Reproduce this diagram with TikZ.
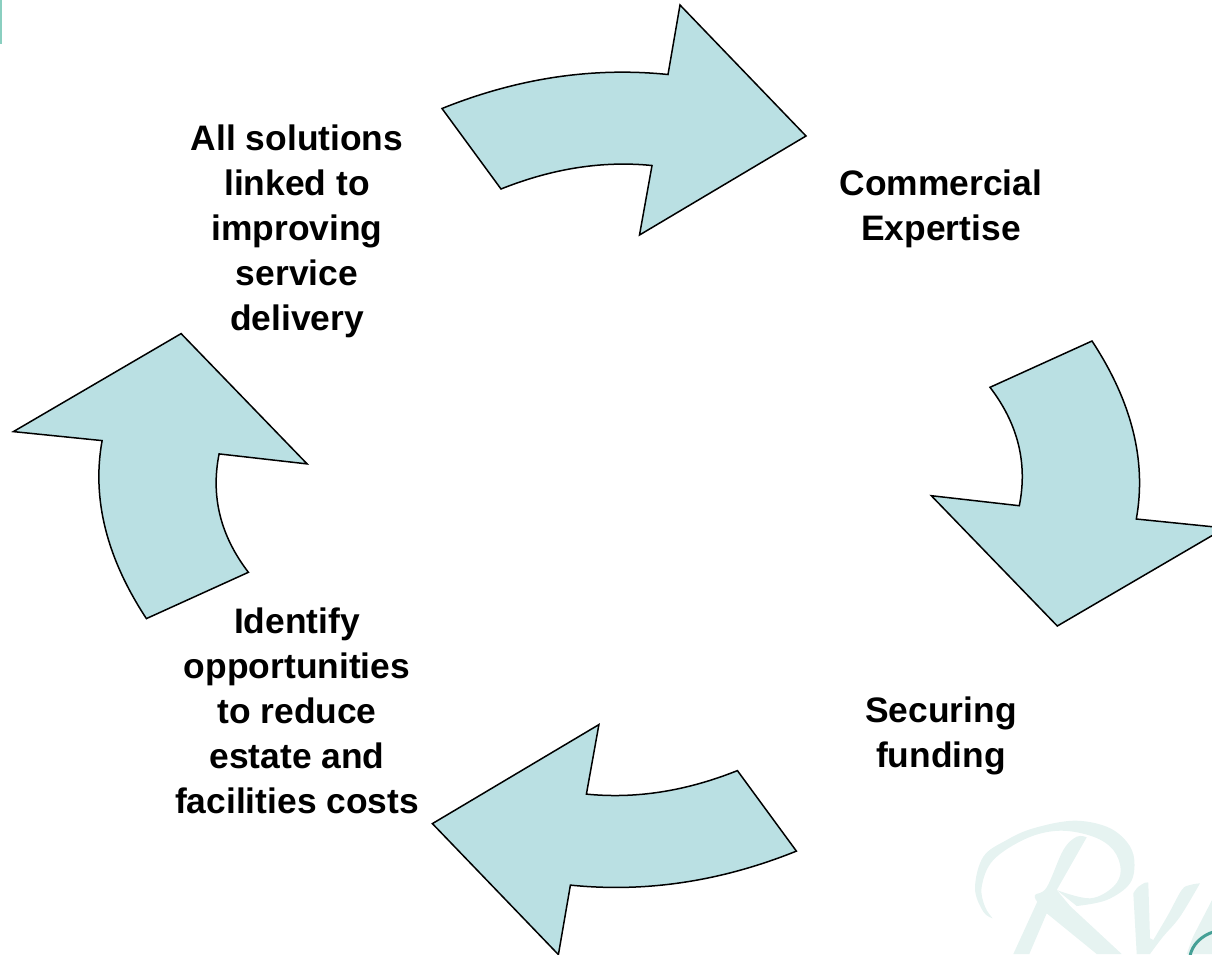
\documentclass[tikz,border=0pt]{standalone}
\usepackage{fontspec}
\setmainfont{Liberation Sans}
\definecolor{arrowfill}{HTML}{BAE0E3}
\definecolor{wm}{HTML}{E6F3F1}
\definecolor{barteal}{HTML}{8ACFC0}
\definecolor{ringteal}{HTML}{45A096}
\tikzset{
  cyclearrow/.style={draw=black,fill=arrowfill,line width=1.5pt,line join=miter},
  label/.style={align=center,inner sep=0pt,anchor=base,font=\fontsize{35.4}{45}\selectfont\bfseries,text=black},
  watermark/.style={fill=wm,draw=none},
  curvy/.style={smooth,tension=.6}
}
\begin{document}
\begin{tikzpicture}[x=1pt,y=-1pt]
\useasboundingbox (0,0) rectangle (1212,954);
\clip (0,0) rectangle (1212,954);
% corner bar
\fill[barteal] (0,0) rectangle (2,44);
% watermark: R swash and bowl
\fill[watermark] plot[curvy] coordinates {(992.7,918.3) (983.3,911.7) (975,888.3) (983.3,856.7) (1006.7,840) (1033.3,828.3) (1073.3,820.7) (1106.7,826.7) (1126.7,841.7) (1134.3,860) (1130,883.3) (1106.7,900) (1076.7,906)}
  -- plot[curvy] coordinates {(1056.7,890) (1090,898.3) (1113.3,886.7) (1120.7,870) (1113.3,850) (1093.3,836.7) (1060,830.7) (1026.7,838.3) (993.3,860) (981.7,886.7) (985,906.7) (992.7,918.3)} -- cycle;
% watermark: R stem
\fill[watermark] plot[curvy] coordinates {(1086.7,837.3) (1076.7,836.7) (1063.3,850) (1046.7,887.3) (1035,895) (1037.3,901.7)}
  -- (1013.3,954) -- (1029.3,954) -- (1046.7,913.3) -- (1096.7,954) -- (1121.7,954) -- (1070,906) -- (1056.7,890) -- cycle;
% watermark: v
\fill[watermark] plot[curvy] coordinates {(1133.3,893.3) (1138,887) (1145,882.7) (1148.3,882.7)}
  -- (1150,938.3) -- (1153.3,940)
  -- plot[curvy] coordinates {(1153.3,940) (1168,915) (1181.7,890) (1190,885) (1200,883.3)}
  -- plot[curvy] coordinates {(1200,883.3) (1180,916.7) (1163,936.7) (1150,954)}
  -- (1136.7,954) -- cycle;
% watermark: next stroke
\fill[watermark] (1212,900) -- (1193,936.7) -- (1186.7,954) -- (1212,954) -- cycle;
\draw[ringteal,line width=3pt] (1213,932) .. controls (1201,936) and (1192,945) .. (1190,956);
% arrows
\draw[cyclearrow] (442,108.5) .. controls (517.3,78.2) and (592.7,66.8) .. (668,74.5)
  -- (680,5) -- (806,136) -- (639.5,235) -- (652,165.5)
  .. controls (602.8,160.6) and (552.5,168.4) .. (501,189) -- cycle;
\draw[cyclearrow] (1092,341) .. controls (1131,400.4) and (1147,459.7) .. (1136.3,519)
  -- (1225,528) -- (1057.3,626) -- (931.3,495.7) -- (1019.3,505.7)
  .. controls (1027.8,463.2) and (1018,423.8) .. (990,387.3) -- cycle;
\draw[cyclearrow] (796.4,851.1) .. controls (721.1,881.4) and (645.7,892.8) .. (570.4,885.1)
  -- (558.4,954.6) -- (432.4,823.6) -- (598.9,724.6) -- (586.4,794.1)
  .. controls (635.6,799) and (685.9,791.2) .. (737.4,770.6) -- cycle;
\draw[cyclearrow] (146.4,618.6) .. controls (107.4,559.2) and (91.4,499.9) .. (102.1,440.6)
  -- (13.4,431.6) -- (181.1,333.6) -- (307.1,463.9) -- (219.1,453.9)
  .. controls (210.6,496.4) and (220.4,535.8) .. (248.4,572.3) -- cycle;
% labels
\node[label] (commercial) at (941,240) {Commercial\\Expertise};
\node[label] (funding) at (941,767.5) {Securing\\funding};
\node[label] (solutions) at (297,330.5) {All solutions\\linked to\\improving\\service\\delivery};
\node[label] (opportunities) at (297,813.5) {Identify\\opportunities\\to reduce\\estate and\\facilities costs};
\end{tikzpicture}
\end{document}
